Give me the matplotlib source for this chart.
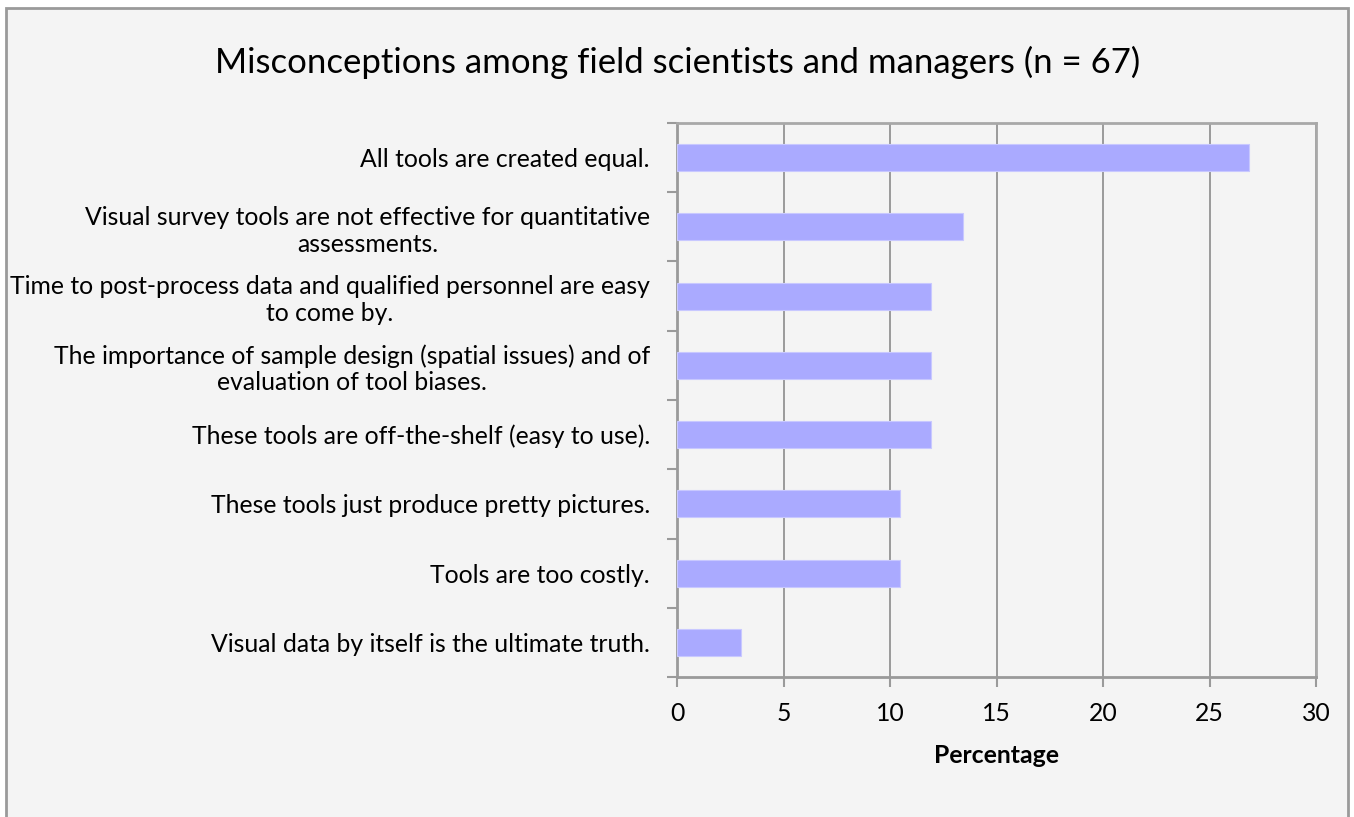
import matplotlib
matplotlib.use("Agg")
import matplotlib.pyplot as plt
from matplotlib.patches import Rectangle
from matplotlib.ticker import MultipleLocator, FixedLocator

categories = [
    "All tools are created equal.",
    "Visual survey tools are not effective for quantitative\nassessments.",
    "Time to post-process data and qualified personnel are easy\nto come by.",
    "The importance of sample design (spatial issues) and of\nevaluation of tool biases.",
    "These tools are off-the-shelf (easy to use).",
    "These tools just produce pretty pictures.",
    "Tools are too costly.",
    "Visual data by itself is the ultimate truth.",
]
percentages = [26.87, 13.43, 11.94, 11.94, 11.94, 10.45, 10.45, 2.99]
title = "Misconceptions among field scientists and managers (n = 67)"
xlabel = "Percentage"

plt.rcParams['font.family'] = ['Lato', 'DejaVu Sans']

W, H = 1354, 817
fig = plt.figure(figsize=(W / 100, H / 100), dpi=100, facecolor="white")

border = Rectangle((6 / W, -0.05), (1348 - 6) / W, 1.05 - 8 / H,
                   transform=fig.transFigure, facecolor="#f4f4f4",
                   edgecolor="#9a9a9a", linewidth=2.0, zorder=-10)
fig.patches.append(border)

ax = fig.add_axes([677 / W, 1 - 677 / H, (1316 - 677) / W, (677 - 123) / H])
ax.set_facecolor("#f4f4f4")

n = len(categories)
ypos = list(range(n))
ax.barh(ypos, percentages, height=0.39, color="#aaaaff", edgecolor="#c8c8ff",
        linewidth=0.8, zorder=3)
ax.set_ylim(n - 0.5, -0.5)
ax.set_xlim(0, 30)
ax.xaxis.set_major_locator(MultipleLocator(5))
ax.grid(axis="x", color="#9a9a9a", linewidth=1.4, zorder=1)
ax.set_axisbelow(True)

ax.set_yticks(ypos)
ax.set_yticklabels(categories, fontsize=17.8, multialignment="center",
                   linespacing=1.2)
ax.yaxis.set_minor_locator(FixedLocator([i - 0.5 for i in range(n + 1)]))
ax.tick_params(axis="y", which="major", length=0, pad=19.5)
ax.tick_params(axis="y", which="minor", length=7, width=1.5, color="#9a9a9a")
ax.tick_params(axis="x", which="major", length=7, width=1.5, color="#9a9a9a",
               labelsize=17.8, pad=11)

for s in ["top", "right", "left", "bottom"]:
    ax.spines[s].set_color("#a8a8a8")
    ax.spines[s].set_linewidth(2.0)
for s in ["left", "bottom"]:
    ax.spines[s].set_color("#9a9a9a")

ax.set_xlabel(xlabel, fontsize=17.8, fontweight="bold", labelpad=14)
fig.text(678 / W, 1 - 62 / H, title, fontsize=25, ha="center", va="center")

fig.savefig("out.png", dpi=100, facecolor="white")
